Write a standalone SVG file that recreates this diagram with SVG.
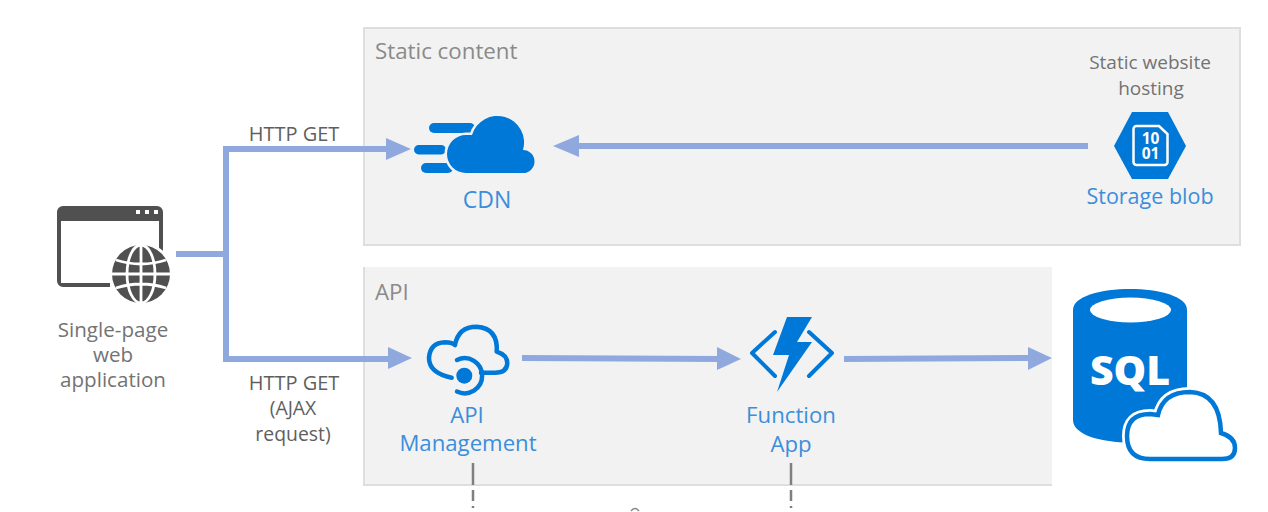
<svg xmlns="http://www.w3.org/2000/svg" width="1268" height="512" viewBox="0 0 1268 512">
<style>
text{font-family:"Open Sans","Noto Sans","Liberation Sans",sans-serif;text-anchor:middle}
.g{fill:#737373;font-size:20.6px}
.s{fill:#737373;font-size:19px}
.k{fill:#5f5f5f;font-size:20px}
.t{fill:#5f5f5f;font-size:19.4px}
.b{fill:#3b8edb;font-size:22.200px}
.h{fill:#8a8a8a;font-size:22.300px;text-anchor:start}
.box{fill:#f2f2f2;stroke:#dedede;stroke-width:2}
.c{fill:none;stroke:#8fa9de;stroke-width:6}
.a{fill:#8fa9de}
.d{fill:none;stroke:#7f7f7f;stroke-width:2.5;stroke-dasharray:22 5 11 5 2}
.i{fill:#0078d7}
.o{fill:none;stroke:#0078d7;stroke-linecap:round;stroke-linejoin:round}
.n{font-size:15.5px;font-weight:700;fill:#fff}
</style>
<rect width="1268" height="512" fill="#fff"/>
<g id="group-static">
<rect class="box" x="364" y="28" width="876" height="217"/>
<text class="h" x="375" y="59">Static content</text>
</g>
<g id="group-api">
<path d="M1052 267H364V485H1052Z" fill="#f2f2f2"/>
<path d="M1052 485H364V267" fill="none" stroke="#dedede" stroke-width="2"/>
<text class="h" x="375" y="300">API</text>
</g>
<g id="connectors">
<path class="c" d="M176 254H226"/>
<path class="c" d="M394 149H226V359H392"/>
<path class="a" d="M411 149L386 138V160Z"/>
<path class="a" d="M412 358L388 347V369Z"/>
<path class="c" d="M1088 146H574"/>
<path class="a" d="M553 146L579 135V157Z"/>
<path class="c" d="M522 358L722 359"/>
<path class="a" d="M741 359L717 347V370Z"/>
<path class="c" d="M844 359L1032 358"/>
<path class="a" d="M1052 358L1028 347V370Z"/>
<path class="d" d="M473 463V508"/>
<path class="d" d="M791 463V508"/>
<path d="M631 511Q635 506 639 511" fill="none" stroke="#8a8a8a" stroke-width="1.500"/>
</g>
<g id="spa">
<path d="M57 212a6 6 0 0 1 6-6H157a6 6 0 0 1 6 6V254H159V221H61V283H110V287H63a6 6 0 0 1-6-6Z" fill="#505050"/>
<g fill="#fff"><rect x="136" y="210" width="4" height="4"/><rect x="145" y="210" width="4" height="4"/><rect x="154" y="210" width="4" height="4"/></g>
<circle cx="141" cy="274" r="32" fill="#fff"/>
<circle cx="141" cy="274" r="29" fill="#505050"/>
<g fill="none" stroke="#fff" stroke-width="2.8">
<ellipse cx="141" cy="274" rx="14" ry="29"/>
<path d="M141 245V303M112 274H170M116 260Q141 268 166 260M116 288Q141 280 166 288"/>
</g>
<text class="g" x="113" y="337">Single-page</text>
<text class="g" x="113" y="362">web</text>
<text class="g" x="113" y="387">application</text>
</g>
<g id="label-http-get">
<text class="k" x="294" y="141">HTTP GET</text>
</g>
<g id="label-http-ajax">
<text class="k" x="294" y="390">HTTP GET</text>
<text class="t" x="293" y="415">(AJAX</text>
<text class="t" x="293" y="441">request)</text>
</g>
<g id="cdn">
<rect class="i" x="429" y="123" width="46" height="10" rx="5"/>
<rect class="i" x="414" y="145" width="32" height="9.500" rx="4.700"/>
<rect class="i" x="421" y="163" width="32" height="10" rx="5"/>
<path class="i" stroke="#f2f2f2" stroke-width="5" paint-order="stroke" d="M466 173A19 19 0 0 1 466 135H472A26 26 0 0 1 523 150A11.500 11.500 0 0 1 523 173Z"/>
<text class="b" x="487" y="208" style="font-size:23px">CDN</text>
</g>
<g id="storage-blob">
<text class="s" x="1150" y="69">Static website</text>
<text class="s" x="1151" y="95">hosting</text>
<path class="i" d="M1132 112H1168L1186 146L1168 179H1132L1114 146Z"/>
<path d="M1136.500 126H1159L1167.500 134V162a3 3 0 0 1-3 3H1136.500a3 3 0 0 1-3-3V129a3 3 0 0 1 3-3Z" fill="none" stroke="#fff" stroke-width="2.500"/>
<text class="n" x="1150.500" y="144">10</text>
<text class="n" x="1150.500" y="159">01</text>
<text class="b" x="1150" y="204" style="font-size:21.500px">Storage blob</text>
</g>
<g id="api-management">
<path class="o" stroke-width="4.500" d="M451.700 377.700Q429 373 429 358Q430 342.700 445 342.300Q451.700 342.300 455 345Q458.300 326.700 476.700 326.700Q498.300 328.300 496.700 351.700Q507.300 355 507.300 363.300Q506.700 372.700 495 372.700H481"/>
<path class="o" stroke-width="4.500" d="M457 360A17.500 17.500 0 1 1 457 391.500"/>
<circle class="i" cx="464.300" cy="375.700" r="8"/>
<text class="b" x="467" y="423">API</text>
<text class="b" x="468" y="451">Management</text>
</g>
<g id="function-app">
<path class="i" d="M787 317H812L797 342H812L777 392L789 355H773Z"/>
<path class="o" stroke-width="4" d="M775 332L752 353L775 376M809 332L832 353L809 376"/>
<text class="b" x="791" y="423">Function</text>
<text class="b" x="791" y="452">App</text>
</g>
<g id="sql-database">
<path class="i" d="M1073 310C1073 282 1187 282 1187 310V420C1187 450 1073 450 1073 420Z"/>
<ellipse cx="1130.500" cy="310" rx="40.500" ry="12.500" fill="#fff"/>
<text x="1130" y="385" fill="#fff" style="font-size:41px;font-weight:800">SQL</text>
<path d="M1150 459Q1127 459 1127 436Q1127 414 1150 414L1158 415Q1163 392 1190 392Q1220 393 1221 433Q1235 437 1235 448Q1235 459 1222 459Z" fill="#fff" stroke="#fff" stroke-width="10"/>
<path d="M1150 459Q1127 459 1127 436Q1127 414 1150 414L1158 415Q1163 392 1190 392Q1220 393 1221 433Q1235 437 1235 448Q1235 459 1222 459Z" fill="#fff" stroke="#0078d7" stroke-width="4.500"/>
</g>
</svg>
